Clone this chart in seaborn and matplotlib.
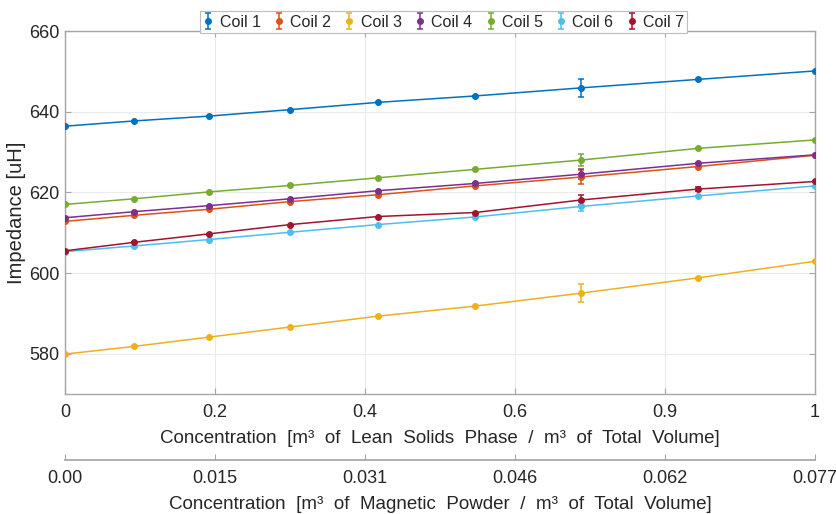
import numpy as np
import pandas as pd
import matplotlib
matplotlib.use("Agg")
import matplotlib.pyplot as plt
import seaborn as sns

# ---- data ----
conc = [0.0, 0.092, 0.192, 0.300, 0.417, 0.547, 0.688, 0.844, 1.0]
coil_names = ["Coil 1", "Coil 2", "Coil 3", "Coil 4", "Coil 5", "Coil 6", "Coil 7"]
coil1 = [636.4, 637.7, 638.9, 640.5, 642.3, 643.9, 645.9, 648.0, 650.1]
coil2 = [612.8, 614.3, 615.8, 617.7, 619.4, 621.6, 623.8, 626.4, 629.2]
coil3 = [579.9, 581.8, 584.1, 586.6, 589.3, 591.8, 595.0, 598.8, 602.9]
coil4 = [613.7, 615.2, 616.7, 618.4, 620.4, 622.2, 624.5, 627.2, 629.3]
coil5 = [617.0, 618.4, 620.1, 621.7, 623.6, 625.7, 628.0, 630.9, 633.0]
coil6 = [605.3, 606.7, 608.3, 610.1, 612.0, 613.9, 616.5, 619.1, 621.6]
coil7 = [605.5, 607.6, 609.7, 612.0, 614.0, 615.0, 618.1, 620.8, 622.7]
err1 = [0, 0, 0, 0, 0, 0, 2.2, 0, 0]
err2 = [0, 0, 0, 0, 0, 0, 1.7, 0, 0]
err3 = [0, 0, 0, 0, 0, 0, 2.3, 0, 0]
err4 = [0, 0, 0, 0, 0, 0, 1.2, 0, 0]
err5 = [0, 0, 0, 0, 0, 0, 1.5, 0, 0]
err6 = [0, 0, 0, 0, 0, 0, 1.2, 0, 0]
err7 = [0, 0, 0, 0, 0, 0, 1.3, 0.4, 0]
top_ticks = [0, 0.2, 0.4, 0.6, 0.8, 1.0]
top_labels = ["0", "0.2", "0.4", "0.6", "0.9", "1"]
powder_max = 0.077
bottom_labels = ["0.00", "0.015", "0.031", "0.046", "0.062", "0.077"]
y_ticks = [580, 600, 620, 640, 660]

colors = ["#0072BD", "#D95319", "#EDB120", "#7E2F8E", "#77AC30", "#4DBEEE", "#A2142F"]
series = [coil1, coil2, coil3, coil4, coil5, coil6, coil7]
errs = [err1, err2, err3, err4, err5, err6, err7]

rows = []
for name, vals in zip(coil_names, series):
    for xv, yv in zip(conc, vals):
        rows.append({"conc": xv, "imp": yv, "coil": name})
df = pd.DataFrame(rows)

sns.set_theme(style="whitegrid")
plt.rcParams["font.family"] = ["Liberation Sans", "DejaVu Sans"]
txt = "#262626"
spine_c = "#a6a6a6"

fig = plt.figure(figsize=(8.37, 5.14), dpi=100)
ax = fig.add_axes([65 / 837, 1 - 394 / 514, 750 / 837, 363 / 514])

sns.lineplot(data=df, x="conc", y="imp", hue="coil", hue_order=coil_names,
             palette=dict(zip(coil_names, colors)), linewidth=1.1,
             legend=False, ax=ax, estimator=None, sort=False)

handles = []
for name, vals, e, c in zip(coil_names, series, errs, colors):
    h = ax.errorbar(conc, vals, yerr=e, fmt="o", ms=4, color=c, ecolor=c,
                    elinewidth=1.1, capsize=2, capthick=1.1, label=name, zorder=3)
    handles.append(h)

ax.set_xlim(0, 1)
ax.set_ylim(570, 660)
ax.set_xticks(top_ticks)
ax.set_xticklabels(top_labels)
ax.set_yticks(y_ticks)
ax.grid(True, color="#ebebeb", linewidth=0.8)
ax.set_facecolor("white")
for s in ax.spines.values():
    s.set_visible(True)
    s.set_color(spine_c)
    s.set_linewidth(1.0)
ax.tick_params(axis="both", direction="in", length=4, width=0.8, color=spine_c,
               labelsize=13, labelcolor=txt, top=True, right=True,
               bottom=True, left=True)
ax.tick_params(axis="x", pad=7)
ax.tick_params(axis="y", pad=4)
ax.set_xlabel("Concentration  [m³  of  Lean  Solids  Phase  /  m³  of  Total  Volume]",
              fontsize=13.5, color=txt, labelpad=7)
ax.set_ylabel("Impedance [uH]", fontsize=14.5, color=txt, labelpad=2)

sec = ax.secondary_xaxis(-66 / 363, functions=(lambda v: v * powder_max,
                                                  lambda v: v / powder_max))
sec.set_xticks([t * powder_max for t in top_ticks])
sec.set_xticklabels(bottom_labels)
sec.spines["bottom"].set_color(spine_c)
sec.tick_params(axis="x", direction="in", length=4, width=0.8, color=spine_c,
                labelsize=13, labelcolor=txt, pad=7)
sec.set_xlabel("Concentration  [m³  of  Magnetic  Powder  /  m³  of  Total  Volume]",
               fontsize=13.5, color=txt, labelpad=7)

leg = ax.legend(handles=handles, labels=coil_names, ncol=7, loc="lower center",
                bbox_to_anchor=(0.505, 0.995), fontsize=11.5, frameon=True,
                fancybox=False, framealpha=1, edgecolor="#bdbdbd",
                handlelength=0.6, handletextpad=0.4, columnspacing=0.85,
                borderpad=0.2, borderaxespad=0)
leg.get_frame().set_linewidth(0.8)
for t in leg.get_texts():
    t.set_color(txt)

fig.savefig("out.png", dpi=100)
